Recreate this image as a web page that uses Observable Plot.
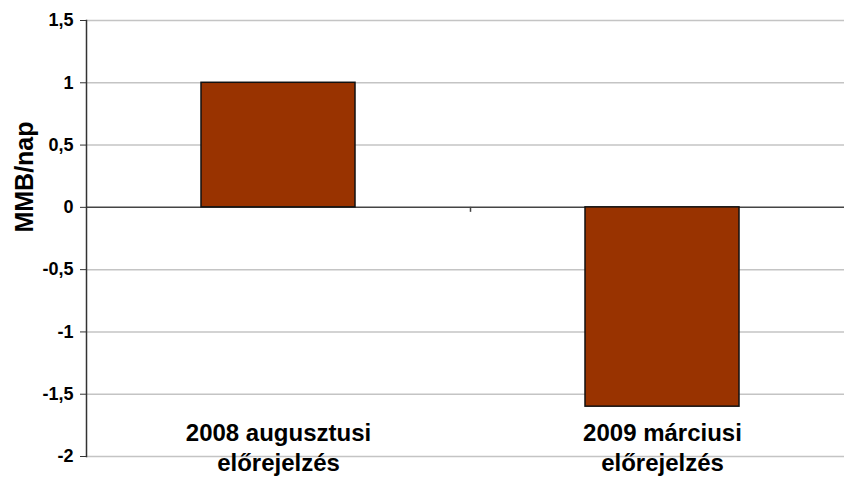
<!DOCTYPE html>
<html>
<head>
<meta charset="utf-8">
<script src="https://cdn.jsdelivr.net/npm/d3@7"></script>
<script src="https://cdn.jsdelivr.net/npm/@observablehq/plot@0.6"></script>
<style>
  html, body { margin: 0; padding: 0; background: #fff; }
  #chart { width: 844px; height: 479px; overflow: hidden; }
</style>
</head>
<body>
<div id="chart"></div>
<script>
const categories = ["2008 augusztusi\nelőrejelzés", "2009 márciusi\nelőrejelzés"];
const values = [1.0, -1.6];
const yTicks = [-2, -1.5, -1, -0.5, 0, 0.5, 1, 1.5];
const yLabel = "MMB/nap";

const data = categories.map((c, i) => ({category: c, value: values[i]}));
const fmt = d => String(d).replace(".", ",");

const chart = Plot.plot({
  width: 844,
  height: 479,
  marginLeft: 86,
  marginRight: -10,
  marginTop: 20,
  marginBottom: 23,
  style: {fontFamily: "Arial, 'Liberation Sans', sans-serif", background: "#fff", color: "#000", overflow: "hidden"},
  x: {domain: categories, paddingInner: 0.6, paddingOuter: 0.3, label: null},
  y: {domain: [-2, 1.5], label: null},
  marks: [
    Plot.ruleY(yTicks.filter(d => d !== 0), {stroke: "#c4c4c4", strokeWidth: 1.5}),
    Plot.ruleY([0], {stroke: "#444", strokeWidth: 1.5}),
    Plot.barY(data, {x: "category", y: "value", fill: "#993300", stroke: "#111", strokeWidth: 1.5}),
    Plot.ruleX([categories[1]], {y1: 0, y2: -0.04, dx: -192, stroke: "#444", strokeWidth: 1.5}),
    Plot.frame({anchor: "left", stroke: "#333", strokeWidth: 1.5}),
    Plot.axisY({ticks: yTicks, tickFormat: fmt, tickSize: 6, tickPadding: 7, fontSize: 18, fontWeight: "bold", label: null, stroke: "#333"}),
    Plot.axisX({anchor: "bottom", tickSize: 0, tickPadding: 0, dy: -37, fontSize: 24, lineHeight: 1.25, fontWeight: "bold", label: null, lineAnchor: "top"}),
    Plot.text([yLabel], {frameAnchor: "left", text: d => d, rotate: -90, dx: -62, dy: -61.5, fontSize: 25, fontWeight: "bold", textAnchor: "middle", lineAnchor: "middle"})
  ]
});
document.getElementById("chart").appendChild(chart);
</script>
</body>
</html>
